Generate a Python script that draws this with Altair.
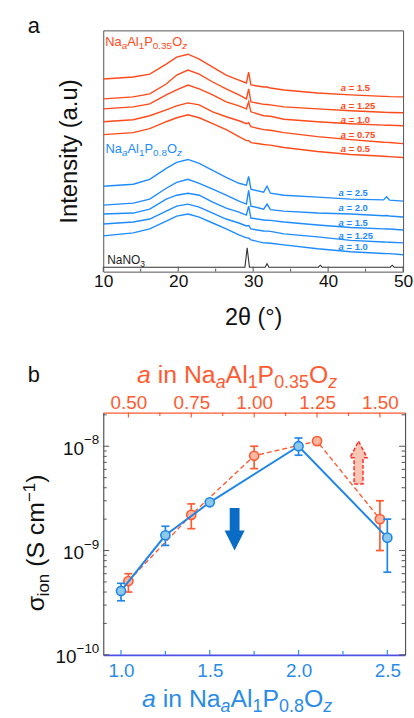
import altair as alt
import pandas as pd

FONT = "Liberation Sans"

# ---------------- panel a : XRD patterns (intensity, arbitrary units) ----------------
TWO_THETA = [10, 14, 16.2, 18.4, 19.8, 21.3, 22.8, 24.6, 26.4, 28.1, 29.1, 29.4, 29.7,
             31.4, 31.85, 32.3, 34.1, 38.6, 43, 47.4, 47.8, 48.2, 50]
P035_A150 = [194, 196, 199, 209, 216, 219, 214, 206, 198, 193, 190, 201, 188, 186, 186, 185, 183, 180, 178, 176.5, 176.5, 176.3, 176]
P035_A125 = [174, 176, 179, 189, 198, 203, 199, 191, 184, 178, 174, 184, 171, 168.5, 168.3, 168, 166, 164, 162, 160.5, 160.4, 160.3, 160]
P035_A100 = [164, 166, 169, 178, 183, 188, 184, 178, 171, 167, 164, 171, 161, 157, 156.8, 156.5, 153.5, 151, 149, 147.6, 147.5, 147.4, 147]
P035_A075 = [151, 153, 157, 163, 167, 170, 168, 161, 156, 152, 149, 150, 146, 143, 142.7, 142.4, 140, 136, 133, 130.3, 130.2, 130.1, 129]
P035_A050 = [138, 140, 144, 151, 155, 158, 155, 149, 143, 136, 132, 132, 130, 128, 127.7, 127.4, 125, 121, 118, 116.2, 116, 115.8, 115]
P08_A250 = [86, 88, 93, 104, 110, 113, 109, 102, 95, 89, 87, 96, 83, 80, 86, 79, 77, 75, 73, 72.3, 75.5, 72, 71]
P08_A200 = [67, 69, 73, 84, 90, 93, 89, 83, 77, 71, 68, 82, 66, 63, 68, 62.5, 61, 59, 58, 56.3, 56.5, 56.1, 55]
P08_A150 = [58, 59, 63, 73, 77, 79, 77, 70, 64, 60, 57, 66, 54, 52, 51.8, 51.6, 50, 47, 44.5, 43.1, 43, 42.9, 42]
P08_A125 = [48, 50, 53, 61, 66, 68, 65, 59, 53, 49, 46, 46.5, 43, 41, 40.8, 40.6, 38, 35, 31.5, 29.8, 29.7, 29.6, 29]
P08_A100 = [36, 39, 43, 51, 56, 58, 55, 49, 43, 37, 34, 34, 32, 29, 28.8, 28.6, 27, 23, 20, 18.3, 18.2, 18.1, 17]
NANO3_TT = [10, 28.9, 29.2, 29.5, 31.6, 31.85, 32.1, 38.7, 38.95, 39.2, 48.3, 48.55, 48.8, 50]
NANO3_I = [4.5, 4.5, 24, 4.5, 4.5, 8, 4.5, 4.5, 6.5, 4.5, 4.5, 6.5, 4.5, 4.5]

P035_NAMES = ["1.5", "1.25", "1.0", "0.75", "0.5"]
P08_NAMES = ["2.5", "2.0", "1.5", "1.25", "1.0"]
A_MAJOR = [10, 20, 30, 40, 50]
A_MINOR = [15, 25, 35, 45]

# ---------------- panel b : ionic conductivity ----------------
P08_A = [1.0, 1.25, 1.5, 2.0, 2.5]
P08_SIG = [4.1e-10, 1.4e-9, 2.9e-9, 1.0e-8, 1.33e-9]
P08_LO = [3.3e-10, 1.12e-9, 2.8e-9, 8.2e-9, 6.2e-10]
P08_HI = [4.85e-10, 1.71e-9, 3.0e-9, 1.2e-8, 2.0e-9]
P035_A = [0.5, 0.75, 1.0, 1.25, 1.5]
P035_SIG = [5.1e-10, 2.2e-9, 8.1e-9, 1.12e-8, 2.0e-9]
P035_LO = [4.0e-10, 1.62e-9, 6.1e-9, 1.08e-8, 1.0e-9]
P035_HI = [6.0e-10, 2.8e-9, 1.0e-8, 1.16e-8, 3.0e-9]
Y_MAJOR = [1e-10, 1e-9, 1e-8]
Y_MINOR = [2e-10, 3e-10, 4e-10, 5e-10, 6e-10, 7e-10, 8e-10, 9e-10,
           2e-9, 3e-9, 4e-9, 5e-9, 6e-9, 7e-9, 8e-9, 9e-9, 2e-8]
Y_LABELS = [(1e-10, "−10"), (1e-9, "−9"), (1e-8, "−8")]
TOP_MAJOR = [0.5, 0.75, 1.0, 1.25, 1.5]
TOP_MINOR = [0.625, 0.875, 1.125, 1.375]
BOT_MAJOR = [1.0, 1.5, 2.0, 2.5]
BOT_MINOR = [1.25, 1.75, 2.25]

# ---------------- styles ----------------
OR_A = "#ff4a1a"
BL_A = "#1e8cff"
OR_B = "#ff5a30"
OR_FILL = "#ffb5a0"
BL_B = "#1f86e8"
BL_FILL = "#8cc8ea"
BL_AXIS = "#5050e6"
BL_LAB = "#2a8ce8"
ARROW_BLUE = "#0a6cc4"
GRAY = "#555555"
INK = "#111111"

WIDTHS = {" ": 278, "(": 333, ")": 333, ".": 278, "-": 333, "=": 584, "−": 584, "°": 400,
          "θ": 556, "σ": 600, "a": 556, "b": 556, "c": 500, "e": 556, "i": 222, "l": 222,
          "m": 833, "n": 556, "o": 556, "s": 500, "t": 278, "u": 556, "y": 500, "z": 500,
          "A": 667, "I": 278, "N": 722, "O": 778, "P": 667, "S": 667}


def text_width(s, fs):
    return sum(WIDTHS.get(c, 556) for c in s) * fs / 1000.0


ONE = pd.DataFrame({"k": [0]})


def rich(pieces, x, y, color, angle=0):
    layers = []
    off = 0.0
    for txt, fs, italic, shift in pieces:
        core = txt.strip(" ")
        lead = len(txt) - len(txt.lstrip(" "))
        trail = len(txt) - len(txt.rstrip(" "))
        off += lead * 0.278 * fs
        if core:
            kw = dict(text=core, font=FONT, fontSize=fs,
                      fontStyle="italic" if italic else "normal",
                      color=color, align="left", baseline="alphabetic",
                      dx=round(off, 2), dy=shift)
            if angle:
                kw["angle"] = angle
            layers.append(alt.Chart(ONE).mark_text(**kw).encode(x=x, y=y))
        off += text_width(core, fs) + trail * 0.278 * fs
    return layers


def formula(main, sub, p, dy):
    return [("Na", main, False, 0), ("a", sub, True, dy), ("Al", main, False, 0),
            ("1", sub, False, dy), ("P", main, False, 0), (p, sub, False, dy),
            ("O", main, False, 0), ("z", sub, True, dy)]


# ================= panel a =================
WA, HA = 302, 243
XA = alt.Scale(domain=[10, 50], nice=False, zero=False)
YA = alt.Scale(domain=[0, 243], nice=False, zero=False)
AXA = alt.Axis(title="2θ (°)", values=A_MAJOR, format="d", labelFont=FONT, labelFontSize=17.5,
               labelColor=INK, labelPadding=1, labelFlush=False, labelOverlap=False,
               ticks=False, domain=False, grid=False, titleFont=FONT, titleFontSize=23.5,
               titleFontWeight="normal", titleColor=INK, titlePadding=16)
AYA = alt.Axis(title="Intensity (a.u)", labels=False, ticks=False, domain=False, grid=False,
               titleFont=FONT, titleFontSize=24, titleFontWeight="normal", titleColor=INK,
               titlePadding=22)


def xa(f):
    return alt.X(f, type="quantitative", scale=XA, axis=AXA)


def ya(f):
    return alt.Y(f, type="quantitative", scale=YA, axis=AYA)


def xad(v):
    return alt.XDatum(v, type="quantitative", scale=XA, axis=AXA)


def yad(v):
    return alt.YDatum(v, type="quantitative", scale=YA, axis=AYA)


def long_df(names, series, tt):
    return pd.DataFrame([{"s": n, "t": t, "h": v}
                         for n, vals in zip(names, series) for t, v in zip(tt, vals)])


df_or = long_df(P035_NAMES, [P035_A150, P035_A125, P035_A100, P035_A075, P035_A050], TWO_THETA)
df_bl = long_df(P08_NAMES, [P08_A250, P08_A200, P08_A150, P08_A125, P08_A100], TWO_THETA)
df_na = long_df(["NaNO3"], [NANO3_I], NANO3_TT)

lines_or = alt.Chart(df_or).mark_line(color=OR_A, strokeWidth=1.4).encode(x=xa("t"), y=ya("h"), detail="s:N")
lines_bl = alt.Chart(df_bl).mark_line(color=BL_A, strokeWidth=1.4).encode(x=xa("t"), y=ya("h"), detail="s:N")
line_na = alt.Chart(df_na).mark_line(color="#333333", strokeWidth=1.1).encode(x=xa("t"), y=ya("h"))

ticks_a_major = alt.Chart(pd.DataFrame({"t": A_MAJOR})).mark_rule(color=GRAY, strokeWidth=1).encode(
    x=xa("t"), y=alt.value(HA), y2=alt.value(HA - 5))
ticks_a_minor = alt.Chart(pd.DataFrame({"t": A_MINOR})).mark_rule(color=GRAY, strokeWidth=1).encode(
    x=xa("t"), y=alt.value(HA), y2=alt.value(HA - 3))

LAB_OR_H = [185.3, 167, 152.7, 137.7, 123.3]
LAB_BL_H = [78.7, 63.7, 48.7, 36, 24.3]
df_lab_or = pd.DataFrame({"t": [41.7] * 5, "h": LAB_OR_H, "v": ["= " + n for n in P035_NAMES]})
df_lab_bl = pd.DataFrame({"t": [41.4] * 5, "h": LAB_BL_H, "v": ["= " + n for n in P08_NAMES]})


def a_labels(df, color):
    la = alt.Chart(df).mark_text(text="a", font=FONT, fontSize=9.5, fontStyle="italic",
                                 fontWeight="bold", color=color, align="left",
                                 baseline="middle").encode(x=xa("t"), y=ya("h"))
    lv = alt.Chart(df).mark_text(font=FONT, fontSize=9.5, fontWeight="bold", color=color,
                                 align="left", baseline="middle", dx=8).encode(
        x=xa("t"), y=ya("h"), text="v:N")
    return [la, lv]


layers_a = [lines_or, lines_bl, line_na, ticks_a_major, ticks_a_minor]
layers_a += a_labels(df_lab_or, OR_A) + a_labels(df_lab_bl, BL_A)
layers_a += rich(formula(13, 10, "0.35", 3), xad(10.26), yad(227), OR_A)
layers_a += rich(formula(13, 10, "0.8", 3), xad(10.3), yad(119.3), BL_A)
layers_a += rich([("NaNO", 12, False, 0), ("3", 8.5, False, 3)], xad(10.53), yad(7.7), "#222222")
layers_a += rich([("a", 22, False, 0)], alt.value(-76), alt.value(2.5), INK)

panel_a = alt.layer(*layers_a).properties(
    width=WA, height=HA, view=alt.ViewBackground(stroke=GRAY, strokeWidth=1))

# ================= panel b =================
WB, HB = 304, 244
XB = alt.Scale(domain=[0.9, 2.6], nice=False, zero=False)
XO = alt.Scale(domain=[0.4, 1.6], nice=False, zero=False)
YS = alt.Scale(type="log", domain=[1e-10, 2.1e-8], nice=False)
AXB = alt.Axis(orient="bottom", values=BOT_MAJOR, format=".1f", labelFont=FONT, labelFontSize=19,
               labelColor=BL_LAB, labelPadding=7, labelFlush=False, labelOverlap=False,
               ticks=False, grid=False, domainColor=BL_AXIS, domainWidth=1.6, title=None)
AXO = alt.Axis(orient="top", values=TOP_MAJOR, format=".2f", labelFont=FONT, labelFontSize=19,
               labelColor=OR_B, labelPadding=0, labelFlush=False, labelOverlap=False,
               ticks=False, grid=False, domainColor=OR_B, domainWidth=1.4, title=None)
AXL = alt.Axis(orient="left", labels=False, ticks=False, grid=False, domainColor=GRAY,
               domainWidth=1.2, title=None)
AXR = alt.Axis(orient="right", labels=False, ticks=False, grid=False, domainColor=GRAY,
               domainWidth=1.2, title=None)

DOWN_ARROW = "M-0.23,-1L0.23,-1L0.23,0.06L0.47,0.06L0,1L-0.47,0.06L-0.23,0.06Z"
UP_ARROW = "M0,-1L0.4,-0.23L0.21,-0.23L0.21,1L-0.21,1L-0.21,-0.23L-0.4,-0.23Z"


def series_layers(a, sig, lo, hi, xscale, xaxis, yaxis, color, fill, dash, width):
    df = pd.DataFrame({"a": a, "s": sig, "lo": lo, "hi": hi})
    x = alt.X("a", type="quantitative", scale=xscale, axis=xaxis)

    def y(f):
        return alt.Y(f, type="quantitative", scale=YS, axis=yaxis)

    line_kw = dict(color=color, strokeWidth=width)
    if dash:
        line_kw["strokeDash"] = dash
    line = alt.Chart(df).mark_line(**line_kw).encode(x=x, y=y("s"))
    err = alt.Chart(df).mark_rule(color=color, strokeWidth=1.7).encode(x=x, y=y("lo"), y2="hi:Q")
    cap_lo = alt.Chart(df).mark_tick(orient="horizontal", size=8, thickness=1.7, color=color,
                                     opacity=1).encode(x=x, y=y("lo"))
    cap_hi = alt.Chart(df).mark_tick(orient="horizontal", size=8, thickness=1.7, color=color,
                                     opacity=1).encode(x=x, y=y("hi"))
    pts = alt.Chart(df).mark_point(shape="circle", size=85, filled=True, fill=fill, stroke=color,
                                   strokeWidth=1.6, opacity=1).encode(x=x, y=y("s"))
    return [line, err, cap_lo, cap_hi, pts]


def y_ticks(vals, x0, length, yaxis):
    return alt.Chart(pd.DataFrame({"s": vals})).mark_rule(color=GRAY, strokeWidth=1).encode(
        y=alt.Y("s", type="quantitative", scale=YS, axis=yaxis),
        x=alt.value(x0), x2=alt.value(x0 + length))


def x_ticks(vals, xscale, xaxis, y0, length, color):
    return alt.Chart(pd.DataFrame({"a": vals})).mark_rule(color=color, strokeWidth=1.2).encode(
        x=alt.X("a", type="quantitative", scale=xscale, axis=xaxis),
        y=alt.value(y0), y2=alt.value(y0 + length))


# --- orange (top axis, left y axis)
orange = series_layers(P035_A, P035_SIG, P035_LO, P035_HI, XO, AXO, AXL, OR_B, OR_FILL, [5, 3], 1.4)
orange.append(alt.Chart(ONE).mark_point(shape=UP_ARROW, size=1850, filled=True, fill="#fcc6b4",
                                        stroke="#ff2d2d", strokeDash=[4, 2], strokeWidth=1.5,
                                        opacity=1).encode(
    x=alt.XDatum(1.415, type="quantitative", scale=XO, axis=AXO),
    y=alt.YDatum(6.97e-9, type="quantitative", scale=YS, axis=AXL)))
orange += [x_ticks(TOP_MAJOR, XO, AXO, 0, 5, OR_B), x_ticks(TOP_MINOR, XO, AXO, 0, 3.5, OR_B),
           y_ticks(Y_MAJOR, 0, 6, AXL), y_ticks(Y_MINOR, 0, 3.5, AXL)]
for v, sup in Y_LABELS:
    yv = alt.YDatum(v, type="quantitative", scale=YS, axis=AXL)
    sw = text_width(sup, 13.5)
    orange.append(alt.Chart(ONE).mark_text(text=sup, font=FONT, fontSize=13.5, color=INK,
                                           align="right", baseline="alphabetic", dy=-2).encode(
        x=alt.value(-4), y=yv))
    orange.append(alt.Chart(ONE).mark_text(text="10", font=FONT, fontSize=19, color=INK,
                                           align="right", baseline="alphabetic", dy=8.5,
                                           dx=-round(sw, 2)).encode(x=alt.value(-4), y=yv))
orange += rich([("a", 25, True, 0), (" in ", 25, False, 0)] + formula(25, 18, "0.35", 5),
               alt.value(34), alt.value(-30), OR_B)
orange += rich([("σ", 25, False, 0), ("ion", 17, False, 5), (" (S cm", 25, False, 0),
                ("−1", 17, False, -9), (")", 25, False, 0)],
               alt.value(-59.3), alt.value(200), INK, angle=270)
orange += rich([("b", 22, False, 0)], alt.value(-76), alt.value(-31.3), INK)
orange_layer = alt.layer(*orange)

# --- blue (bottom axis, right y axis)
blue = series_layers(P08_A, P08_SIG, P08_LO, P08_HI, XB, AXB, AXR, BL_B, BL_FILL, None, 2.0)
blue.append(alt.Chart(ONE).mark_point(shape=DOWN_ARROW, size=1850, filled=True, color=ARROW_BLUE,
                                      opacity=1, strokeWidth=0).encode(
    x=alt.XDatum(1.64, type="quantitative", scale=XB, axis=AXB),
    y=alt.YDatum(1.6e-9, type="quantitative", scale=YS, axis=AXR)))
blue += [x_ticks(BOT_MAJOR, XB, AXB, HB, -5, BL_LAB), x_ticks(BOT_MINOR, XB, AXB, HB, -4, BL_LAB),
         y_ticks(Y_MAJOR, WB, -6, AXR), y_ticks(Y_MINOR, WB, -3.5, AXR)]
blue += rich([("a", 25, True, 0), (" in ", 25, False, 0)] + formula(25, 18, "0.8", 5),
             alt.value(39), alt.value(HB + 53), BL_LAB)
blue_layer = alt.layer(*blue)

panel_b = alt.layer(orange_layer, blue_layer).resolve_scale(x="independent").resolve_axis(
    x="independent", y="independent").properties(
    width=WB, height=HB, view=alt.ViewBackground(stroke="transparent"))

chart = alt.vconcat(panel_a, panel_b, spacing=142, bounds="flush").properties(
    padding={"left": 21, "top": 12, "right": 0, "bottom": 0},
    background="white")

chart.save("out.html", embed_options={"renderer": "svg", "actions": False})
